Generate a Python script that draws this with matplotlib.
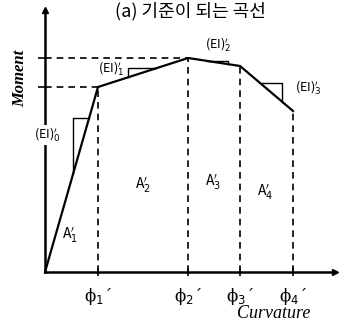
import matplotlib.pyplot as plt

plt.rcParams['font.family'] = ['Noto Sans CJK KR', 'DejaVu Sans']
plt.rcParams['mathtext.fontset'] = 'dejavusans'

# moment-curvature backbone (normalised units)
phi = [0.0, 1.0, 2.70, 3.68, 4.68]
moment = [0.0, 1.85, 2.14, 2.06, 1.61]
phi_labels = ["ϕ$_1$´", "ϕ$_2$´", "ϕ$_3$´", "ϕ$_4$´"]
area_labels = ["A$_1'$", "A$_2'$", "A$_3'$", "A$_4'$"]
ei_labels = ["(EI)$_0'$", "(EI)$_1'$", "(EI)$_2'$", "(EI)$_3'$"]

fig = plt.figure(figsize=(3.39, 3.26), dpi=100)
ax = fig.add_axes([45 / 339, 54 / 326, 290 / 339, 262 / 326])
ax.set_xlim(0, 290 / 53)
ax.set_ylim(0, 2.62)

for s in ['top', 'right']:
    ax.spines[s].set_visible(False)
for s in ['left', 'bottom']:
    ax.spines[s].set_linewidth(1.8)
ax.plot(1, 0, '>k', ms=5, transform=ax.get_yaxis_transform(), clip_on=False)
ax.plot(0, 1, '^k', ms=5, transform=ax.get_xaxis_transform(), clip_on=False)

ax.plot(phi, moment, color='black', lw=1.6, clip_on=False)

# dashed guides to the axes
dash = dict(color='black', lw=1.2, ls=(0, (4, 3)))
for x, y in zip(phi[1:], moment[1:]):
    ax.plot([x, x], [0, y], **dash)
ax.plot([0, phi[1]], [moment[1], moment[1]], **dash)
ax.plot([0, phi[2]], [moment[2], moment[2]], **dash)

ax.set_xticks(phi[1:])
ax.set_xticklabels(phi_labels, fontsize=12, family='DejaVu Serif')
ax.set_yticks([moment[1], moment[2]])
ax.set_yticklabels([])
ax.tick_params(axis='x', direction='inout', length=6, width=1.2, pad=7)
ax.tick_params(axis='y', direction='out', length=5, width=1.2)


def slope_at(i, x):
    x0, x1 = phi[i], phi[i + 1]
    y0, y1 = moment[i], moment[i + 1]
    return y0 + (y1 - y0) * (x - x0) / (x1 - x0)


# stiffness triangles along each branch
tri = dict(color='black', lw=1.0)
xa, xb = 0.53, 0.83
ax.plot([xa, xa, xb], [slope_at(0, xa), slope_at(0, xb), slope_at(0, xb)], **tri)
xa, xb = 1.57, 2.1
ax.plot([xa, xa, xb], [slope_at(1, xa), slope_at(1, xb), slope_at(1, xb)], **tri)
xa, xb = 3.06, 3.45
ax.plot([xa, xb, xb], [slope_at(2, xa), slope_at(2, xa), slope_at(2, xb)], **tri)
xa, xb = 4.06, 4.47
ax.plot([xa, xb, xb], [slope_at(3, xa), slope_at(3, xa), slope_at(3, xb)], **tri)

ax.text(0.04, 1.37, ei_labels[0], fontsize=9, ha='center', va='center',
        bbox=dict(fc='white', ec='none', pad=0.5))
ax.text(1.25, 2.03, ei_labels[1], fontsize=9, ha='center', va='center')
ax.text(3.27, 2.27, ei_labels[2], fontsize=9, ha='center', va='center')
ax.text(4.97, 1.84, ei_labels[3], fontsize=9, ha='center', va='center')

area_pos = [(0.47, 0.37), (1.85, 0.87), (3.17, 0.90), (4.15, 0.80)]
for (x, y), lab in zip(area_pos, area_labels):
    ax.text(x, y, lab, fontsize=10, ha='center', va='center')

fig.text(20 / 339, 1 - 78 / 326, 'Moment', family='Liberation Serif', style='italic',
         fontweight='bold', fontsize=12, rotation=90, ha='center', va='center')
fig.text(274 / 339, 1 - 314 / 326, 'Curvature', family='Liberation Serif', style='italic',
         fontsize=13, ha='center', va='center')
fig.text(190 / 339, 1 - 16 / 326, '(a) 기준이 되는 곡선', fontsize=13, ha='center', va='baseline')

fig.savefig('out.png', dpi=100)
